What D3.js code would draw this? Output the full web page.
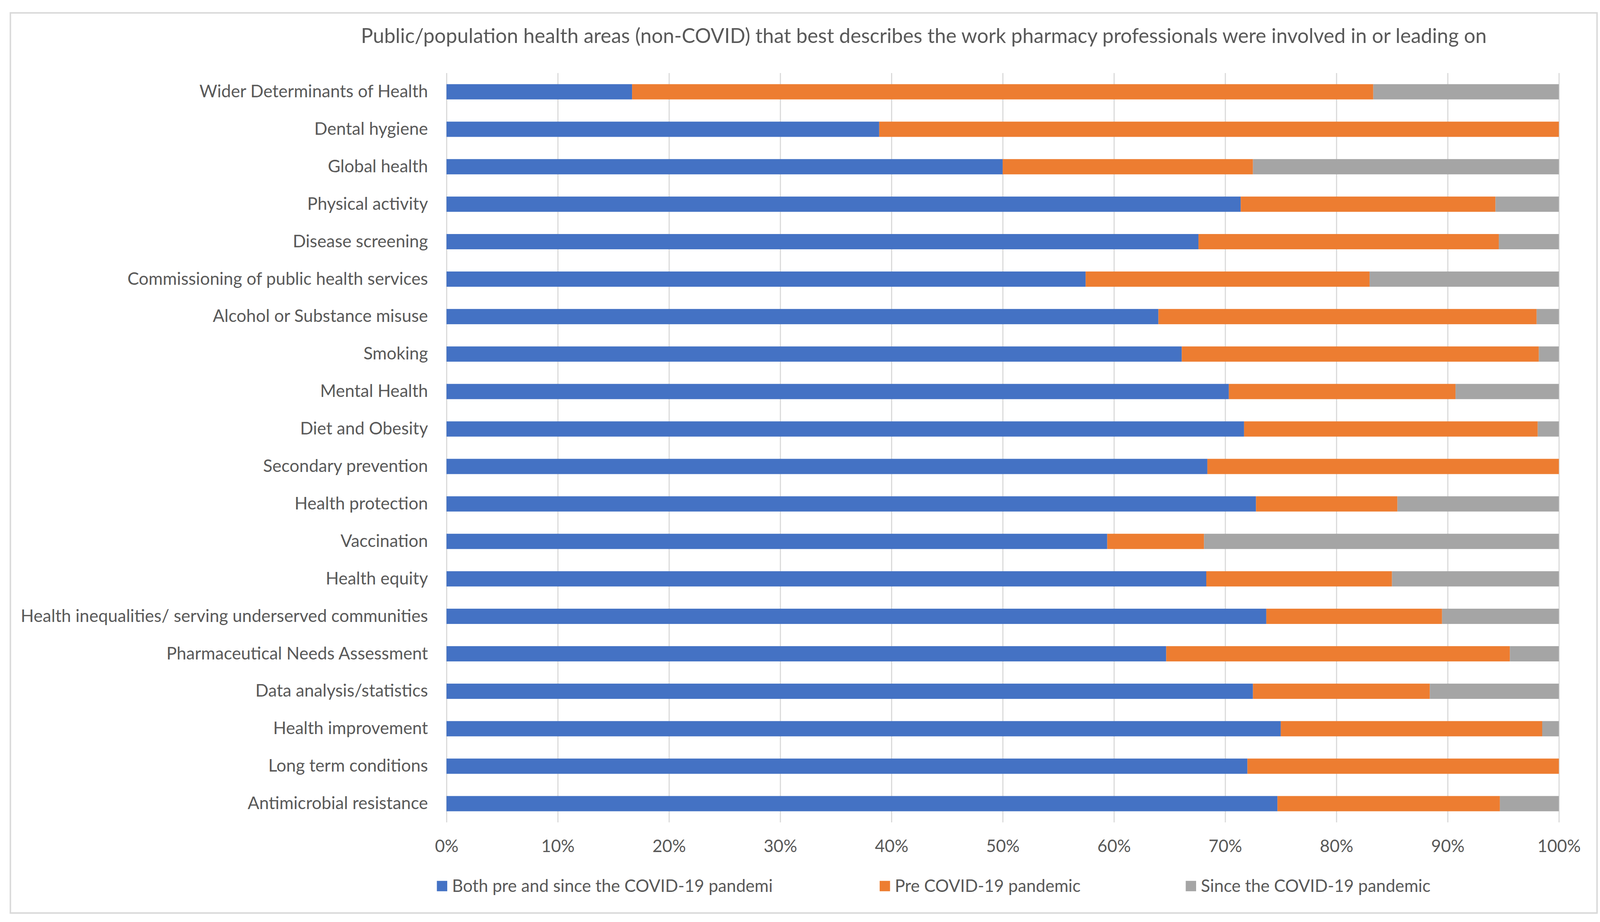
<!DOCTYPE html>
<html>
<head>
<meta charset="utf-8">
<script src="https://cdn.jsdelivr.net/npm/d3@7"></script>
<style>
  html, body { margin: 0; padding: 0; background: #fff; overflow: hidden; }
  svg { display: block; width: 100vw; height: 100vh; }
  text { font-family: Lato, "Open Sans", sans-serif; fill: #595959; }
</style>
</head>
<body>
<svg id="chart"></svg>
<script>

// data (percent of respondents)
const categories = [
	"Wider Determinants of Health",
	"Dental hygiene",
	"Global health",
	"Physical activity",
	"Disease screening",
	"Commissioning of public health services",
	"Alcohol or Substance misuse",
	"Smoking",
	"Mental Health",
	"Diet and Obesity",
	"Secondary prevention",
	"Health protection",
	"Vaccination",
	"Health equity",
	"Health inequalities/ serving underserved communities",
	"Pharmaceutical Needs Assessment",
	"Data analysis/statistics",
	"Health improvement",
	"Long term conditions",
	"Antimicrobial resistance"
];
const both  = [16.7, 38.9, 50.0, 71.4, 67.6, 57.4, 64.0, 66.1, 70.4, 71.7, 68.4, 72.7, 59.4, 68.3, 73.7, 64.7, 72.5, 75.0, 72.0, 74.7];
const pre   = [66.7, 61.1, 22.5, 22.9, 27.0, 25.5, 34.0, 32.1, 20.4, 26.4, 31.6, 12.7,  8.7, 16.7, 15.8, 30.9, 15.9, 23.5, 28.0, 20.0];
const since = [16.7,  0.0, 27.5,  5.7,  5.4, 17.0,  2.0,  1.8,  9.3,  1.9,  0.0, 14.5, 31.9, 15.0, 10.5,  4.4, 11.6,  1.5,  0.0,  5.3];

const seriesKeys = ["both", "pre", "since"];
const seriesNames = ["Both pre and since the COVID-19 pandemi", "Pre COVID-19 pandemic", "Since the COVID-19 pandemic"];
const seriesColors = ["#4472C4", "#ED7D31", "#A5A5A5"];
const xTicks = [0, 0.1, 0.2, 0.3, 0.4, 0.5, 0.6, 0.7, 0.8, 0.9, 1];
const title = "Public/population health areas (non-COVID) that best describes the work pharmacy professionals were involved in or leading on";

// layout is worked out on a 4318 x 2360 sheet; vertical positions are
// stretched to whatever shape the window really has, text is not
const W = 4318;
const H = W * window.innerHeight / window.innerWidth;
const ky = H / 2360;
const Y = v => v * ky;

const svg = d3.select("#chart").attr("viewBox", `0 0 ${W} ${H}`);

// chart frame
svg.append("rect")
	.attr("x", 28).attr("y", Y(33))
	.attr("width", 4282).attr("height", Y(2304))
	.attr("fill", "#fff")
	.attr("stroke", "#D9D9D9")
	.attr("stroke-width", 4);

const plot = { left: 1205, right: 4207, top: Y(187), bottom: Y(2105) };

const rows = categories.map((c, i) => ({ cat: c, both: both[i], pre: pre[i], since: since[i] }));

const x = d3.scaleLinear().domain([0, 1]).range([plot.left, plot.right]);
const y = d3.scaleBand()
	.domain(categories)
	.range([plot.top, plot.bottom])
	.paddingInner(0.593)
	.paddingOuter(0.2965);

const color = d3.scaleOrdinal().domain(seriesKeys).range(seriesColors);

// gridlines
svg.append("g")
	.attr("transform", `translate(0,${plot.bottom})`)
	.call(d3.axisBottom(x).tickValues(xTicks).tickSize(-(plot.bottom - plot.top)).tickFormat(""))
	.call(g => g.select(".domain").remove())
	.call(g => g.selectAll("line").attr("stroke", "#D9D9D9").attr("stroke-width", 3));

// stacked bars (100%)
const stacked = d3.stack().keys(seriesKeys).offset(d3.stackOffsetExpand)(rows);

svg.append("g")
	.selectAll("g")
	.data(stacked)
	.join("g")
	.attr("fill", d => color(d.key))
	.selectAll("rect")
	.data(d => d)
	.join("rect")
	.attr("x", d => x(d[0]))
	.attr("y", d => y(d.data.cat))
	.attr("width", d => x(d[1]) - x(d[0]))
	.attr("height", y.bandwidth());

// category labels
svg.append("g")
	.attr("transform", `translate(${plot.left},0)`)
	.call(d3.axisLeft(y).tickSize(0).tickPadding(50))
	.call(g => g.select(".domain").remove())
	.call(g => g.selectAll("text")
		.attr("font-size", 46.5)
		.attr("font-family", "Lato")
		.attr("fill", "#595959"));

// x tick labels
svg.append("g")
	.attr("transform", `translate(0,${plot.bottom})`)
	.call(d3.axisBottom(x).tickValues(xTicks).tickFormat(d3.format(".0%")).tickSize(0).tickPadding(Y(62) - 18))
	.call(g => g.select(".domain").remove())
	.call(g => g.selectAll("text")
		.attr("font-size", 46)
		.attr("font-family", "Lato")
		.attr("fill", "#595959"));

// title
svg.append("text")
	.attr("x", 2493).attr("y", Y(92))
	.attr("dy", "0.35em")
	.attr("text-anchor", "middle")
	.attr("font-size", 54.4)
	.text(title);

// legend
const legendX = [1179, 2374, 3200];
const legend = svg.append("g")
	.selectAll("g")
	.data(seriesKeys)
	.join("g")
	.attr("transform", (d, i) => `translate(${legendX[i]},${Y(2268)})`);

legend.append("rect")
	.attr("y", -14)
	.attr("width", 28).attr("height", 28)
	.attr("fill", d => color(d));

legend.append("text")
	.attr("x", 41)
	.attr("dy", "0.35em")
	.attr("font-size", 46)
	.text((d, i) => seriesNames[i]);

</script>
</body>
</html>
